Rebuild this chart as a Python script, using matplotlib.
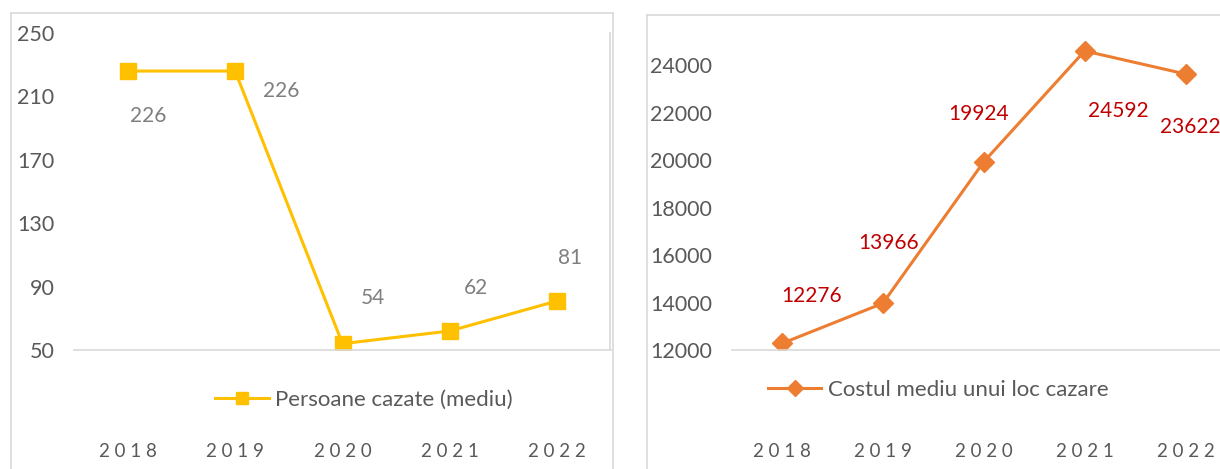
import matplotlib
matplotlib.use("Agg")
import matplotlib.pyplot as plt
from matplotlib.lines import Line2D

years = ["2018", "2019", "2020", "2021", "2022"]
persoane = [226, 226, 54, 62, 81]
costul = [12276, 13966, 19924, 24592, 23622]
left_ticks = [50, 90, 130, 170, 210, 250]
right_ticks = [12000, 14000, 16000, 18000, 20000, 22000, 24000]
left_label_offsets = [(20, -45), (46, -20), (30, 46), (26, 43), (13, 43)]
right_label_offsets = [(30, 47), (6, 60), (-5, 48), (34, -60), (5, -53)]

W, H = 1220, 469
plt.rcParams['font.family'] = ['Lato', 'DejaVu Sans']
fig = plt.figure(figsize=(W / 100, H / 100), dpi=100)

GRID = "#D9D9D9"
TICK = "#595959"


def fx(px):
    return px / W


def fy(py):
    return 1 - py / H


def spaced(s):
    return " ".join(s)


# outer frames
for xs, ys in [
    ([11, 11], [13, 469]), ([11, 613], [13, 13]), ([613, 613], [13, 469]),
    ([610, 610], [33, 350]),
    ([647, 647], [15, 469]), ([647, 1220], [15, 15]),
]:
    fig.add_artist(Line2D([fx(x) for x in xs], [fy(y) for y in ys], color=GRID, lw=1.2))

x = list(range(len(years)))

# left panel
ax1 = fig.add_axes([fx(74), fy(350), fx(611) - fx(74), fy(33) - fy(350)])
ax1.plot(x, persoane, color="#FFC000", lw=2.2, marker="s", markersize=11,
         label="Persoane cazate (mediu)")
ax1.set_xlim(-0.5, len(years) - 0.5)
ax1.set_ylim(50, 250)
ax1.set_yticks(left_ticks)
for i, v in enumerate(persoane):
    dx, dy = left_label_offsets[i]
    ax1.annotate(str(v), (i, v), xytext=(dx, dy), textcoords="offset pixels",
                 ha="center", va="center", fontsize=15, color="#7F7F7F")

# right panel
ax2 = fig.add_axes([fx(731.5), fy(350), fx(1236) - fx(731.5), fy(29.4) - fy(350)])
ax2.plot(x, costul, color="#ED7D31", lw=2.2, marker="D", markersize=10,
         label="Costul mediu unui loc cazare")
ax2.set_xlim(-0.5, len(years) - 0.5)
ax2.set_ylim(12000, 25500)
ax2.set_yticks(right_ticks)
for i, v in enumerate(costul):
    dx, dy = right_label_offsets[i]
    ax2.annotate(str(v), (i, v), xytext=(dx, dy), textcoords="offset pixels",
                 ha="center", va="center", fontsize=15, color="#C00000",
                 annotation_clip=False)

for ax in (ax1, ax2):
    for s in ("top", "right", "left"):
        ax.spines[s].set_visible(False)
    ax.spines["bottom"].set_color(GRID)
    ax.spines["bottom"].set_linewidth(1.2)
    ax.set_xticks(x)
    ax.set_xticklabels([spaced(y) for y in years])
    ax.tick_params(axis="x", length=0, pad=67, labelsize=13.5, labelcolor=TICK)
    ax.tick_params(axis="y", length=0, pad=14, labelsize=15.5, labelcolor=TICK)
    ax.patch.set_visible(False)

leg1 = ax1.legend(loc="center", bbox_to_anchor=(0.54, -0.158), frameon=False,
                  fontsize=16, labelcolor=TICK, handlelength=2.4, handletextpad=0.3)
leg2 = ax2.legend(loc="center", bbox_to_anchor=(0.41, -0.125), frameon=False,
                  fontsize=16, labelcolor=TICK, handlelength=2.4, handletextpad=0.3)
for leg in (leg1, leg2):
    for h in leg.legend_handles:
        h.set_markersize(8)

fig.savefig("out.png", dpi=100)
